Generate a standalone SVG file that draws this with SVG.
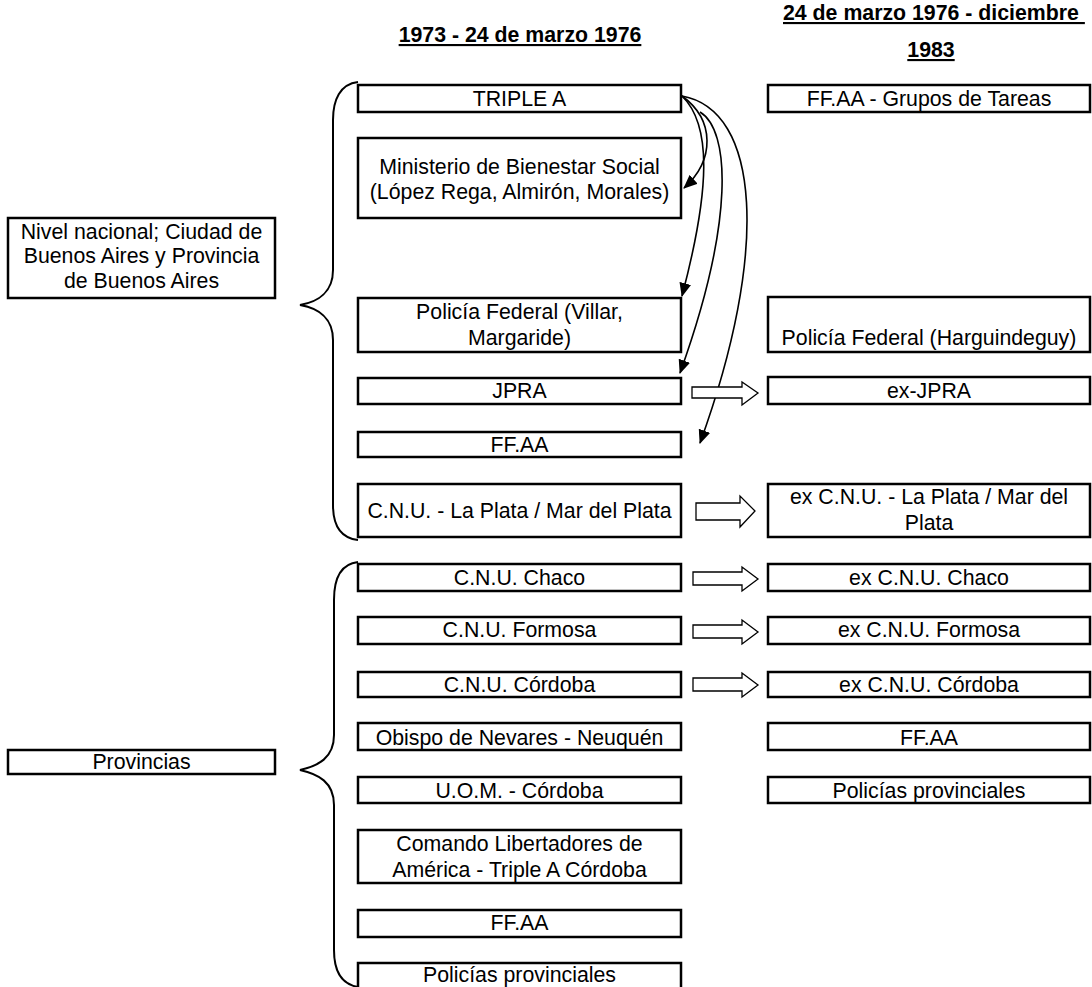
<svg xmlns="http://www.w3.org/2000/svg" width="1092" height="987" viewBox="0 0 1092 987">
<style>
  text { font-family: "Liberation Sans", Arial, sans-serif; font-size: 21.3px; fill: #000; }
  .c { text-anchor: middle; }
  .h { font-weight: bold; text-decoration: underline; }
  .box { fill: #fff; stroke: #000; stroke-width: 2.5; }
  .brace { fill: none; stroke: #000; stroke-width: 2; }
  .curve { fill: none; stroke: #000; stroke-width: 1.6; }
  .block { fill: #fff; stroke: #000; stroke-width: 1.3; stroke-linejoin: miter; }
</style>
<defs>
  <marker id="ah" markerUnits="userSpaceOnUse" markerWidth="14" markerHeight="12" refX="13" refY="6" orient="auto">
    <path d="M0,0 L14,6 L0,12 Z" fill="#000"/>
  </marker>
</defs>
<rect width="1092" height="987" fill="#fff"/>

<g id="headers">
  <text class="c h" x="520" y="42">1973 - 24 de marzo 1976</text>
  <text class="h" x="783" y="20" xml:space="preserve">24 de marzo 1976 - diciembre&#160;</text>
  <text class="c h" x="931" y="57">1983</text>
</g>

<g id="braces">
  <path class="brace" d="M358,82 C340,84 333,100 333,120 L333,270 C333,292 318,302 300,305 C318,308 333,318 333,340 L333,505 C333,525 340,538 358,540"/>
  <path class="brace" d="M358,562 C340,564 334,580 334,600 L334,735 C334,758 318,766 300,770 C318,774 334,782 334,805 L334,950 C334,970 340,984 358,987"/>
</g>

<g id="nivel-nacional">
  <rect class="box" x="8" y="218" width="267" height="80"/>
  <text class="c" x="141.5" y="239">Nivel nacional; Ciudad de</text>
  <text class="c" x="141.5" y="263">Buenos Aires y Provincia</text>
  <text class="c" x="141.5" y="288">de Buenos Aires</text>
</g>
<g id="provincias">
  <rect class="box" x="8" y="750" width="267" height="24"/>
  <text class="c" x="141.5" y="769">Provincias</text>
</g>

<g id="triple-a"><rect class="box" x="358" y="85" width="323" height="27"/><text class="c" x="519.5" y="106">TRIPLE A</text></g>
<g id="ministerio"><rect class="box" x="358" y="138" width="323" height="80"/><text class="c" x="519.5" y="174">Ministerio de Bienestar Social</text><text class="c" x="519.5" y="199">(López Rega, Almirón, Morales)</text></g>
<g id="policia-federal"><rect class="box" x="358" y="298" width="323" height="54"/><text class="c" x="519.5" y="319">Policía Federal (Villar,</text><text class="c" x="519.5" y="345">Margaride)</text></g>
<g id="jpra"><rect class="box" x="358" y="378" width="323" height="26"/><text class="c" x="519.5" y="398">JPRA</text></g>
<g id="ffaa-1"><rect class="box" x="358" y="432" width="323" height="25"/><text class="c" x="519.5" y="452">FF.AA</text></g>
<g id="cnu-laplata"><rect class="box" x="358" y="484" width="323" height="53"/><text class="c" x="519.5" y="518">C.N.U. - La Plata / Mar del Plata</text></g>
<g id="cnu-chaco"><rect class="box" x="358" y="564" width="323" height="27"/><text class="c" x="519.5" y="585">C.N.U. Chaco</text></g>
<g id="cnu-formosa"><rect class="box" x="358" y="617" width="323" height="27"/><text class="c" x="519.5" y="637">C.N.U. Formosa</text></g>
<g id="cnu-cordoba"><rect class="box" x="358" y="672" width="323" height="25"/><text class="c" x="519.5" y="692">C.N.U. Córdoba</text></g>
<g id="obispo"><rect class="box" x="358" y="723" width="323" height="27"/><text class="c" x="519.5" y="745">Obispo de Nevares - Neuquén</text></g>
<g id="uom"><rect class="box" x="358" y="777" width="323" height="26"/><text class="c" x="519.5" y="798">U.O.M. - Córdoba</text></g>
<g id="comando"><rect class="box" x="358" y="830" width="323" height="53"/><text class="c" x="519.5" y="851">Comando Libertadores de</text><text class="c" x="519.5" y="877">América - Triple A Córdoba</text></g>
<g id="ffaa-2"><rect class="box" x="358" y="910" width="323" height="27"/><text class="c" x="519.5" y="930">FF.AA</text></g>
<g id="policias-prov-1"><rect class="box" x="358" y="963" width="323" height="27"/><text class="c" x="519.5" y="982">Policías provinciales</text></g>

<g id="ffaa-grupos"><rect class="box" x="768" y="85" width="322" height="27"/><text class="c" x="929" y="106">FF.AA - Grupos de Tareas</text></g>
<g id="policia-federal-h"><rect class="box" x="768" y="297" width="322" height="55"/><text class="c" x="929" y="345">Policía Federal (Harguindeguy)</text></g>
<g id="ex-jpra"><rect class="box" x="768" y="377" width="322" height="27"/><text class="c" x="929" y="398">ex-JPRA</text></g>
<g id="ex-cnu-laplata"><rect class="box" x="768" y="484" width="322" height="53"/><text class="c" x="929" y="504">ex C.N.U. - La Plata / Mar del</text><text class="c" x="929" y="530">Plata</text></g>
<g id="ex-cnu-chaco"><rect class="box" x="768" y="564" width="322" height="27"/><text class="c" x="929" y="585">ex C.N.U. Chaco</text></g>
<g id="ex-cnu-formosa"><rect class="box" x="768" y="617" width="322" height="27"/><text class="c" x="929" y="637">ex C.N.U. Formosa</text></g>
<g id="ex-cnu-cordoba"><rect class="box" x="768" y="672" width="322" height="25"/><text class="c" x="929" y="692">ex C.N.U. Córdoba</text></g>
<g id="ffaa-3"><rect class="box" x="768" y="723" width="322" height="27"/><text class="c" x="929" y="745">FF.AA</text></g>
<g id="policias-prov-2"><rect class="box" x="768" y="777" width="322" height="26"/><text class="c" x="929" y="798">Policías provinciales</text></g>

<g id="connectors">
  <path class="curve" marker-end="url(#ah)" d="M682,96 C715,120 715,160 684,188"/>
  <path class="curve" marker-end="url(#ah)" d="M682,96 C712,125 710,190 682,296"/>
  <path class="curve" marker-end="url(#ah)" d="M700,112 C730,130 735,220 680,373"/>
  <path class="curve" marker-end="url(#ah)" d="M682,96 C760,110 770,250 700,443"/>
  <path class="block" d="M692,387 L742,387 L742,382 L758,393 L742,405 L742,398 L692,398 Z"/>
  <path class="block" d="M696,503 L740,503 L740,496 L755,511 L740,527 L740,520 L696,520 Z"/>
  <path class="block" d="M693,572 L742,572 L742,567 L758,579 L742,591 L742,585 L693,585 Z"/>
  <path class="block" d="M693,625 L742,625 L742,620 L758,632 L742,644 L742,638 L693,638 Z"/>
  <path class="block" d="M693,678 L742,678 L742,673 L758,685 L742,697 L742,691 L693,691 Z"/>
</g>
</svg>
